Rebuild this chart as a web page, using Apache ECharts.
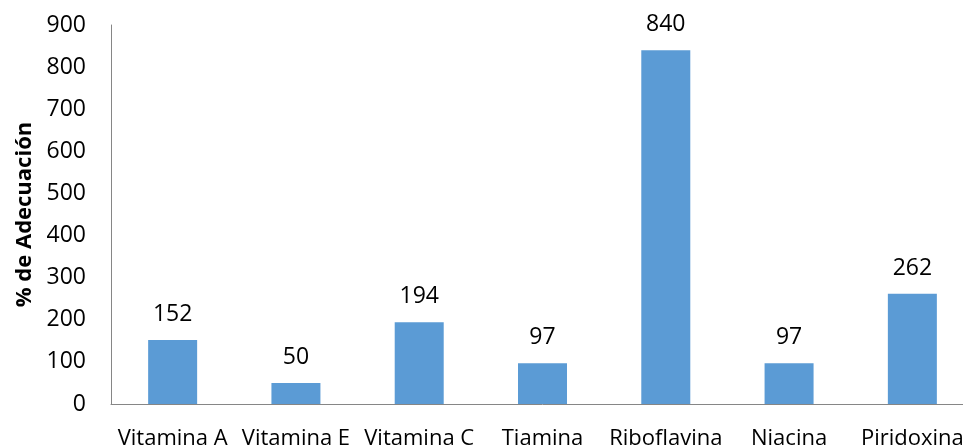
<!DOCTYPE html>
<html>
<head>
<meta charset="utf-8">
<script src="https://cdn.jsdelivr.net/npm/echarts@6/dist/echarts.min.js"></script>
<style>
  html, body { margin: 0; padding: 0; background: #fff; overflow: hidden; width: 963px; height: 448px; }
  /* the plot area runs a little past the right edge of the page */
  #chart { width: 1000px; height: 448px; }
</style>
</head>
<body>
<div id="chart"></div>
<script>
// Porcentaje de adecuación por vitamina
const categories = ['Vitamina A', 'Vitamina E', 'Vitamina C', 'Tiamina', 'Riboflavina', 'Niacina', 'Piridoxina'];
const adecuacion = [152, 50, 194, 97, 840, 97, 262];
const yTicks = { min: 0, max: 900, interval: 100 };

const font = '"Open Sans", "DejaVu Sans", sans-serif';
const chart = echarts.init(document.getElementById('chart'), null, { renderer: 'canvas' });

chart.setOption({
  animation: false,
  backgroundColor: '#ffffff',
  grid: { left: 111, top: 25, width: 863, height: 379, containLabel: false, outerBoundsMode: 'none' },
  xAxis: {
    type: 'category',
    data: categories,
    axisLine: { lineStyle: { color: '#868686', width: 1 } },
    axisTick: { show: false },
    axisLabel: { color: '#000', fontFamily: font, fontSize: 22, margin: 24, interval: 0 }
  },
  yAxis: {
    type: 'value',
    min: yTicks.min,
    max: yTicks.max,
    interval: yTicks.interval,
    name: '% de Adecuación',
    nameLocation: 'middle',
    nameGap: 74,
    nameRotate: 90,
    nameTextStyle: { color: '#000', fontFamily: font, fontSize: 22, fontWeight: 'bold' },
    axisLine: { show: true, lineStyle: { color: '#868686', width: 1 } },
    axisTick: { show: false },
    splitLine: { show: false },
    axisLabel: { color: '#000', fontFamily: font, fontSize: 23, margin: 25 }
  },
  series: [{
    type: 'bar',
    data: adecuacion,
    barWidth: 49,
    itemStyle: { color: '#5B9BD5' },
    label: {
      show: true,
      position: 'top',
      distance: 14,
      color: '#000',
      fontFamily: font,
      fontSize: 23
    }
  }]
});
</script>
</body>
</html>
